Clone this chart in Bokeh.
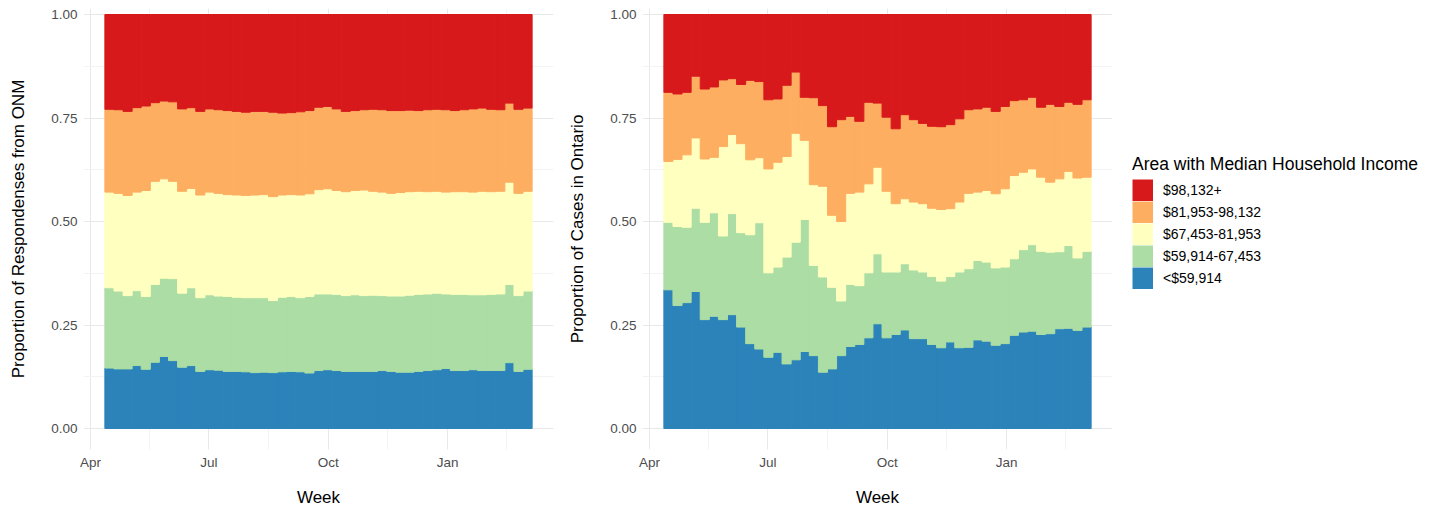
import numpy as np
import pandas as pd
from bokeh.plotting import figure
from bokeh.layouts import row
from bokeh.core.properties import value
from bokeh.models import (ColumnDataSource, Range1d, FixedTicker, DatetimeTickFormatter,
                          NumeralTickFormatter, Legend, LegendItem)
from bokeh.embed import file_html
from bokeh.resources import INLINE

# ---------------- data ----------------
week_start = pd.date_range("2020-04-12", periods=47, freq="7D")

income_groups = ["<$59,914", "$59,914-67,453", "$67,453-81,953", "$81,953-98,132", "$98,132+"]
group_colors = ["#2B83BA", "#ABDDA4", "#FFFFBF", "#FDAE61", "#D7191C"]

# cumulative share (bottom -> top) (ONM respondents)
onm_cum_lt59914 = [0.146, 0.144, 0.144, 0.152, 0.143, 0.160, 0.174, 0.164, 0.148, 0.152, 0.138, 0.142,
                   0.141, 0.138, 0.138, 0.137, 0.135, 0.136, 0.135, 0.137, 0.138, 0.137, 0.134, 0.140,
                   0.142, 0.140, 0.138, 0.138, 0.138, 0.138, 0.140, 0.138, 0.136, 0.136, 0.138, 0.140,
                   0.142, 0.145, 0.140, 0.140, 0.142, 0.140, 0.140, 0.140, 0.159, 0.138, 0.143]
onm_cum_lt67453 = [0.340, 0.332, 0.321, 0.333, 0.319, 0.348, 0.363, 0.362, 0.327, 0.340, 0.316, 0.323,
                   0.320, 0.319, 0.317, 0.316, 0.316, 0.316, 0.309, 0.317, 0.319, 0.316, 0.319, 0.325,
                   0.325, 0.324, 0.321, 0.323, 0.321, 0.322, 0.321, 0.320, 0.320, 0.322, 0.324, 0.325,
                   0.327, 0.325, 0.324, 0.324, 0.323, 0.323, 0.324, 0.325, 0.348, 0.321, 0.332]
onm_cum_lt81953 = [0.571, 0.568, 0.563, 0.571, 0.575, 0.597, 0.603, 0.597, 0.573, 0.580, 0.564, 0.571,
                   0.568, 0.565, 0.564, 0.563, 0.564, 0.565, 0.560, 0.564, 0.565, 0.564, 0.567, 0.577,
                   0.579, 0.575, 0.572, 0.575, 0.576, 0.573, 0.571, 0.568, 0.570, 0.572, 0.573, 0.572,
                   0.573, 0.571, 0.572, 0.572, 0.571, 0.573, 0.572, 0.573, 0.595, 0.568, 0.573]
onm_cum_lt98132 = [0.771, 0.770, 0.766, 0.775, 0.779, 0.787, 0.791, 0.789, 0.772, 0.775, 0.766, 0.772,
                   0.770, 0.768, 0.766, 0.764, 0.766, 0.766, 0.764, 0.762, 0.763, 0.765, 0.768, 0.776,
                   0.778, 0.772, 0.766, 0.768, 0.770, 0.771, 0.770, 0.768, 0.768, 0.769, 0.768, 0.770,
                   0.771, 0.770, 0.768, 0.770, 0.772, 0.774, 0.771, 0.770, 0.786, 0.771, 0.774]

# cumulative share (bottom -> top) (cases in Ontario)
cases_cum_lt59914 = [0.335, 0.297, 0.304, 0.331, 0.263, 0.271, 0.263, 0.275, 0.245, 0.205, 0.192, 0.172,
                     0.184, 0.156, 0.166, 0.186, 0.176, 0.136, 0.144, 0.176, 0.198, 0.203, 0.219, 0.253,
                     0.219, 0.227, 0.238, 0.217, 0.217, 0.203, 0.195, 0.209, 0.195, 0.196, 0.214, 0.211,
                     0.201, 0.205, 0.225, 0.233, 0.235, 0.227, 0.229, 0.241, 0.242, 0.237, 0.245]
cases_cum_lt67453 = [0.498, 0.488, 0.486, 0.532, 0.498, 0.521, 0.465, 0.519, 0.473, 0.468, 0.497, 0.376,
                     0.390, 0.414, 0.450, 0.505, 0.394, 0.366, 0.341, 0.308, 0.348, 0.345, 0.376, 0.422,
                     0.378, 0.378, 0.398, 0.383, 0.378, 0.367, 0.356, 0.367, 0.378, 0.386, 0.406, 0.402,
                     0.388, 0.390, 0.410, 0.432, 0.444, 0.428, 0.426, 0.427, 0.442, 0.412, 0.428]
cases_cum_lt81953 = [0.645, 0.650, 0.661, 0.702, 0.651, 0.655, 0.681, 0.710, 0.688, 0.649, 0.654, 0.627,
                     0.643, 0.657, 0.713, 0.696, 0.589, 0.585, 0.515, 0.500, 0.568, 0.571, 0.591, 0.631,
                     0.573, 0.543, 0.555, 0.547, 0.543, 0.532, 0.529, 0.531, 0.547, 0.568, 0.571, 0.575,
                     0.567, 0.579, 0.611, 0.619, 0.627, 0.607, 0.595, 0.603, 0.621, 0.605, 0.607]
cases_cum_lt98132 = [0.812, 0.808, 0.812, 0.851, 0.820, 0.825, 0.842, 0.845, 0.831, 0.841, 0.838, 0.794,
                     0.796, 0.829, 0.861, 0.800, 0.799, 0.780, 0.729, 0.746, 0.754, 0.742, 0.788, 0.786,
                     0.752, 0.724, 0.758, 0.746, 0.737, 0.730, 0.729, 0.734, 0.748, 0.770, 0.772, 0.776,
                     0.766, 0.778, 0.792, 0.794, 0.800, 0.776, 0.783, 0.778, 0.788, 0.783, 0.794]

x_major_ticks = ["2020-04-01", "2020-07-01", "2020-10-01", "2021-01-01"]
x_minor_ticks = ["2020-05-16", "2020-08-16", "2020-11-16", "2021-02-15"]
y_major_ticks = [0.0, 0.25, 0.50, 0.75, 1.0]
y_minor_ticks = [0.125, 0.375, 0.625, 0.875]

# ---------------- helpers ----------------
FONT = "Liberation Sans"
DAY_MS = 86400000


def to_ms(dates):
    return [pd.Timestamp(d).value // 10**6 for d in dates]


week_ms = np.array(to_ms(week_start))
week_center_ms = week_ms + 3.5 * DAY_MS
keys = ["g0", "g1", "g2", "g3", "g4"]


def group_shares(cums):
    n = len(cums[0])
    stack = np.vstack([np.zeros(n)] + [np.array(c) for c in cums] + [np.ones(n)])
    return np.diff(stack, axis=0)


def make_panel(cums, ylabel, border_left, border_right):
    shares = group_shares(cums)
    data = {"x": week_center_ms}
    for k, s in zip(keys, shares):
        data[k] = s
    src = ColumnDataSource(data)
    span = 47 * 7 * DAY_MS
    pad = 0.05 * span
    x_start = week_ms[0] - pad
    x_end = week_ms[0] + span + pad
    p = figure(frame_width=470, frame_height=441,
               x_range=Range1d(x_start, x_end), y_range=Range1d(-0.0507, 1.0145),
               x_axis_type="datetime", output_backend="svg", toolbar_location=None,
               min_border_left=border_left, min_border_right=border_right,
               min_border_top=8, min_border_bottom=61)
    rs = p.vbar_stack(keys, x="x", width=7 * DAY_MS, color=group_colors,
                      source=src, line_width=1)
    p.outline_line_color = None
    p.background_fill_color = "white"
    p.border_fill_color = "white"
    for ax in (p.xaxis[0], p.yaxis[0]):
        ax.axis_line_color = None
        ax.major_tick_line_color = None
        ax.minor_tick_line_color = None
        ax.major_tick_out = 0
        ax.major_tick_in = 0
        ax.minor_tick_out = 0
        ax.minor_tick_in = 0
        ax.major_label_text_font = FONT
        ax.major_label_text_font_size = "13.5px"
        ax.major_label_text_color = "#4d4d4d"
        ax.axis_label_text_font = FONT
        ax.axis_label_text_font_size = "17px"
        ax.axis_label_text_font_style = "normal"
        ax.axis_label_text_color = "#000000"
    xa = p.xaxis[0]
    xa.ticker = FixedTicker(ticks=to_ms(x_major_ticks), minor_ticks=to_ms(x_minor_ticks))
    xa.formatter = DatetimeTickFormatter(microseconds="%b", milliseconds="%b", seconds="%b",
                                         minsec="%b", minutes="%b", hourmin="%b", hours="%b",
                                         days="%b", months="%b", years="%b")
    xa.axis_label = "Week"
    xa.major_label_standoff = 5
    xa.axis_label_standoff = 15
    ya = p.yaxis[0]
    ya.ticker = FixedTicker(ticks=y_major_ticks, minor_ticks=y_minor_ticks)
    ya.formatter = NumeralTickFormatter(format="0.00")
    ya.axis_label = ylabel
    ya.major_label_standoff = 6
    ya.axis_label_standoff = 20
    for g in (p.xgrid[0], p.ygrid[0]):
        g.grid_line_color = "#e8e8e8"
        g.grid_line_width = 1
        g.minor_grid_line_color = "#f3f3f3"
        g.minor_grid_line_width = 1
    return p, rs


left, _ = make_panel([onm_cum_lt59914, onm_cum_lt67453, onm_cum_lt81953, onm_cum_lt98132],
                     "Proportion of Respondenses from ONM", 83, 12)
right, rs = make_panel([cases_cum_lt59914, cases_cum_lt67453, cases_cum_lt81953, cases_cum_lt98132],
                       "Proportion of Cases in Ontario", 75, 10)

# legend keys: line renderers holding a single NaN point (nothing drawn in the plot),
# rendered in the legend as thick solid swatches that touch each other
key_renderers = []
for c in group_colors:
    key_renderers.append(right.line(x=[np.nan], y=[np.nan], line_color=c,
                                    line_width=22, line_cap="butt"))

items = [LegendItem(label=value(income_groups[i]), renderers=[key_renderers[i]])
         for i in range(4, -1, -1)]
legend = Legend(items=items, location=(20, 160), orientation="vertical",
                title="Area with Median Household Income")
legend.title_text_font = FONT
legend.title_text_font_size = "17.5px"
legend.title_text_font_style = "normal"
legend.title_text_color = "#000000"
legend.title_standoff = 4
legend.label_text_font = FONT
legend.label_text_font_size = "14px"
legend.label_text_color = "#000000"
legend.glyph_width = 21
legend.glyph_height = 22
legend.label_height = 22
legend.spacing = 0
legend.label_standoff = 10
legend.padding = 10
legend.margin = 10
legend.border_line_color = None
legend.background_fill_alpha = 0
right.add_layout(legend, "right")

layout = row(left, right)
open("out.html", "w").write(file_html(layout, INLINE))
